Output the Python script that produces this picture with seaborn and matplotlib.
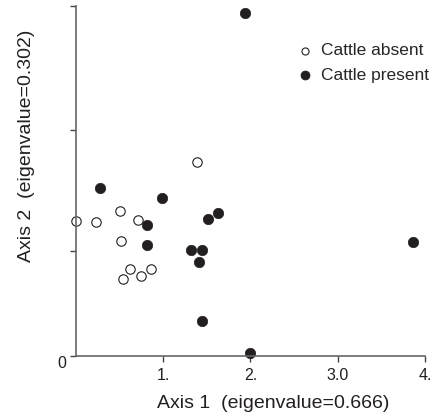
import numpy as np
import pandas as pd
import matplotlib
matplotlib.use("Agg")
import matplotlib.pyplot as plt
import seaborn as sns

# Ordination scores
absent_x = [0.006, 0.231, 0.509, 0.712, 0.517, 0.618, 0.538, 0.746, 0.864, 1.392]
absent_y = [1.541, 1.533, 1.656, 1.556, 1.316, 1.001, 0.881, 0.915, 1.001, 2.220]

present_x = [0.280, 0.986, 0.815, 0.815, 1.325, 1.451, 1.416, 1.451, 1.513, 1.634,
             1.939, 3.865, 1.997]
present_y = [1.919, 1.808, 1.499, 1.273, 1.213, 1.213, 1.072, 0.400, 1.567, 1.633,
             3.928, 1.301, 0.031]

x_ticks = [1, 2, 3, 4]
x_tick_labels = ["1.", "2.", "3.0", "4."]
y_ticks = [0, 1.201, 2.586, 4.005]
y_tick_labels = ["0", "", "", ""]

df = pd.concat([
    pd.DataFrame({"x": absent_x, "y": absent_y, "Cattle": "Cattle absent"}),
    pd.DataFrame({"x": present_x, "y": present_y, "Cattle": "Cattle present"}),
], ignore_index=True)

sns.set_style("ticks")
plt.rcParams['font.family'] = ['Liberation Sans', 'DejaVu Sans']

fig = plt.figure(figsize=(4.37, 4.19), dpi=100)
ax = fig.add_axes([0.173, 0.150, 0.800, 0.836])

ink = "#231f20"
sns.scatterplot(data=df[df.Cattle == "Cattle absent"], x="x", y="y", ax=ax,
                s=46, facecolor="white", edgecolor=ink, linewidth=0.8,
                label="Cattle absent", clip_on=False)
sns.scatterplot(data=df[df.Cattle == "Cattle present"], x="x", y="y", ax=ax,
                s=56, color=ink, edgecolor=ink, linewidth=0.5,
                label="Cattle present", clip_on=False)

ax.set_xlim(0, 4)
ax.set_ylim(0, 4.005)
ax.set_xticks(x_ticks)
ax.set_xticklabels(x_tick_labels)
ax.set_yticks(y_ticks)
ax.set_yticklabels(y_tick_labels)
ax.tick_params(direction="out", length=4, width=1, color="#444444",
               labelsize=11.5, labelcolor=ink)
ax.tick_params(axis="x", pad=4.5)
ax.tick_params(axis="y", pad=3)
for lab in ax.get_yticklabels():
    lab.set_va("top")
for side in ["top", "right"]:
    ax.spines[side].set_visible(False)
for side in ["left", "bottom"]:
    ax.spines[side].set_color("#666666")
    ax.spines[side].set_linewidth(1.2)

ax.set_xlabel("Axis 1  (eigenvalue=0.666)", fontsize=14, color=ink)
ax.set_ylabel("Axis 2  (eigenvalue=0.302)", fontsize=14, color=ink)
ax.xaxis.set_label_coords(0.564, -0.111)
ax.yaxis.set_label_coords(-0.116, 0.60)

leg = ax.legend(loc="upper right", bbox_to_anchor=(1.03, 0.914), frameon=False,
                fontsize=12.5, handlelength=1.4, handletextpad=0.2,
                labelspacing=0.56, borderaxespad=0)
leg.legend_handles[0].set_sizes([26])
leg.legend_handles[1].set_sizes([42])

fig.savefig("out.png", dpi=100)
